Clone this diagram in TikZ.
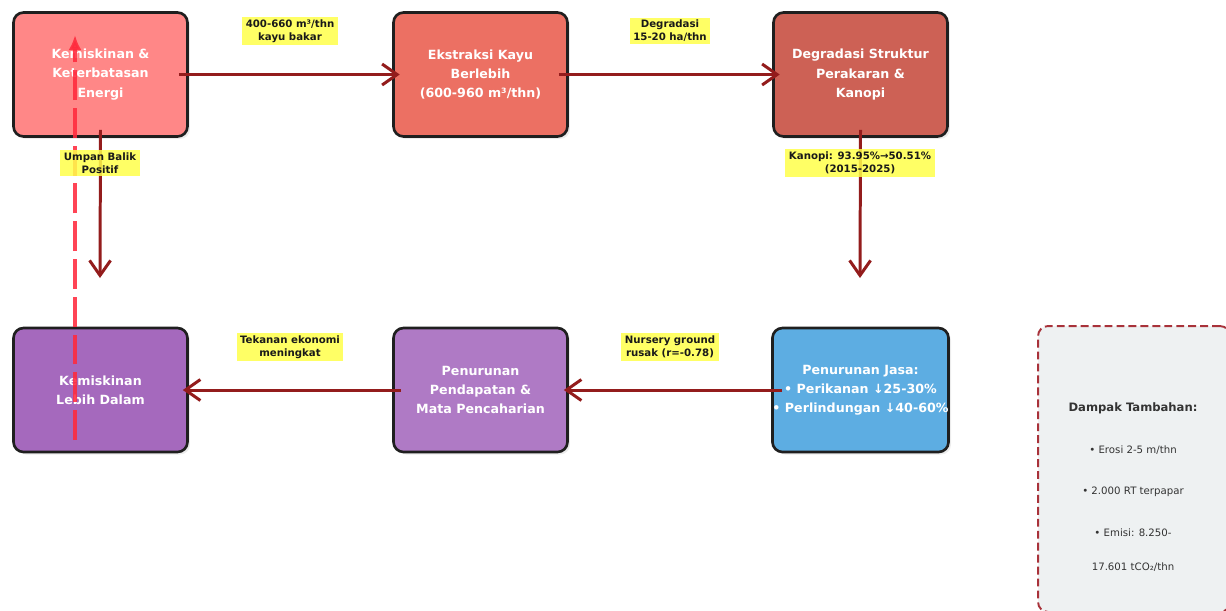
\documentclass[tikz,border=0pt]{standalone}
\usepackage{fontspec}
\setmainfont{DejaVu Sans}
\usepackage{tikz}
\usetikzlibrary{arrows.meta, shadows}
\pgfmathsetmacro{\boxw}{3.48}
\pgfmathsetmacro{\boxh}{2.48}

\definecolor{Miskin}{HTML}{FF8787}
\definecolor{Ekstraksi}{HTML}{EC7063}
\definecolor{Degradasi}{HTML}{CD6155}
\definecolor{Dalam}{HTML}{A569BD}
\definecolor{Pendapatan}{HTML}{AF7AC5}
\definecolor{Jasa}{HTML}{5DADE2}
\definecolor{Panah}{HTML}{931C1C}
\definecolor{Umpan}{HTML}{FF2A3D}
\definecolor{Kuning}{HTML}{FFFF4A}
\definecolor{Abu}{HTML}{EEF1F2}
\definecolor{Garis}{HTML}{A8323A}

\tikzset{
	tahap/.style={draw=black!88, line width=1.5pt, rounded corners=0.2cm, text=white, align=center,
		minimum width=\boxw cm, minimum height=\boxh cm, inner sep=0pt,
		font=\bfseries\fontsize{7.2}{10.9}\selectfont,
		drop shadow={shadow xshift=0.05cm, shadow yshift=-0.05cm, opacity=0.15}},
	catatan/.style={fill=Kuning, fill opacity=0.85, text opacity=1, text=black!90, align=center,
		inner xsep=2pt, inner ysep=1.5pt, font=\bfseries\fontsize{5.8}{7.3}\selectfont},
	alur/.style={Panah, line width=1.7pt, -{Straight Barb[length=3mm, width=4.2mm]}},
	dampakteks/.style={text=black!80, font=\fontsize{5.8}{7}\selectfont}
}

\begin{document}
\begin{tikzpicture}[x=0.02cm, y=-0.02cm]
		\useasboundingbox (0, 0) rectangle (1226, 610);
		\clip (0, 0) rectangle (1226, 610);
		% The six stages of the cycle
		\node [tahap, fill=Miskin] (k1) at (100.5, 74.5) {Kemiskinan \&\\Keterbatasan\\Energi};
		\node [tahap, fill=Ekstraksi] (k2) at (480.5, 74.5) {Ekstraksi Kayu\\Berlebih\\(600-960 m³/thn)};
		\node [tahap, fill=Degradasi] (k3) at (860.5, 74.5) {Degradasi Struktur\\Perakaran \&\\Kanopi};
		\node [tahap, fill=Jasa] (k6) at (860.5, 390) {Penurunan Jasa:\\• Perikanan ↓25-30\%\\• Perlindungan ↓40-60\%};
		\node [tahap, fill=Pendapatan] (k5) at (480.5, 390) {Penurunan\\Pendapatan \&\\Mata Pencaharian};
		\node [tahap, fill=Dalam] (k4) at (100.5, 390) {Kemiskinan\\Lebih Dalam};
		% Free ends of the downward arrows
		\coordinate (d1) at (100, 278);
		\coordinate (d3) at (860, 278);
		% Arrows between the stages
		\draw [alur] ([xshift=-0.2cm]k1.east) -- ([xshift=0.15cm]k2.west);
		\draw [alur] ([xshift=-0.2cm]k2.east) -- ([xshift=0.15cm]k3.west);
		\draw [alur] ([yshift=0.16cm]k3.south) -- (d3);
		\draw [alur] ([xshift=0.22cm]k6.west) -- ([xshift=-0.1cm]k5.east);
		\draw [alur] ([xshift=0.17cm]k5.west) -- ([xshift=-0.12cm]k4.east);
		\draw [alur] ([yshift=0.16cm]k1.south) -- (d1);
		% Arrow depicting the positive feedback
		\draw [Umpan, opacity=0.88, line width=2.2pt, dash pattern=on 17pt off 4.5pt, -{Latex[width=2.6mm, length=3mm]}] ([xshift=-0.51cm, yshift=-1cm]k4.center) -- ([xshift=-0.51cm, yshift=0.79cm]k1.center);
		% Labels on the arrows
		\node [catatan] (c12) at (290, 31) {400-660 m³/thn\\kayu bakar};
		\node [catatan] (c23) at (670, 31) {Degradasi\\15-20 ha/thn};
		\node [catatan] (c36) at (860, 163) {Kanopi: 93.95\%→50.51\%\\(2015-2025)};
		\node [catatan] (c14) at (100, 163) {Umpan Balik\\Positif};
		\node [catatan] (c65) at (670, 347) {Nursery ground\\rusak (r=-0.78)};
		\node [catatan] (c54) at (290, 347) {Tekanan ekonomi\\meningkat};
		% The box of additional impacts
		\node [draw=Garis, fill=Abu, line width=1.1pt, dash pattern=on 4.5pt off 2.3pt, rounded corners=0.2cm,
			minimum width=3.84cm, minimum height=5.72cm] (dampak) at (1134, 469) {};
		\node [dampakteks, font=\bfseries\fontsize{6.6}{8}\selectfont] (judul) at (1133, 408) {Dampak Tambahan:};
		\node [dampakteks] (e1) at (1133, 450) {• Erosi 2-5 m/thn};
		\node [dampakteks] (e2) at (1133, 492) {• 2.000 RT terpapar};
		\node [dampakteks] (e3) at (1133, 533) {• Emisi: 8.250-};
		\node [dampakteks] (e4) at (1133, 567) {17.601 tCO₂/thn};
	\end{tikzpicture}
\end{document}
